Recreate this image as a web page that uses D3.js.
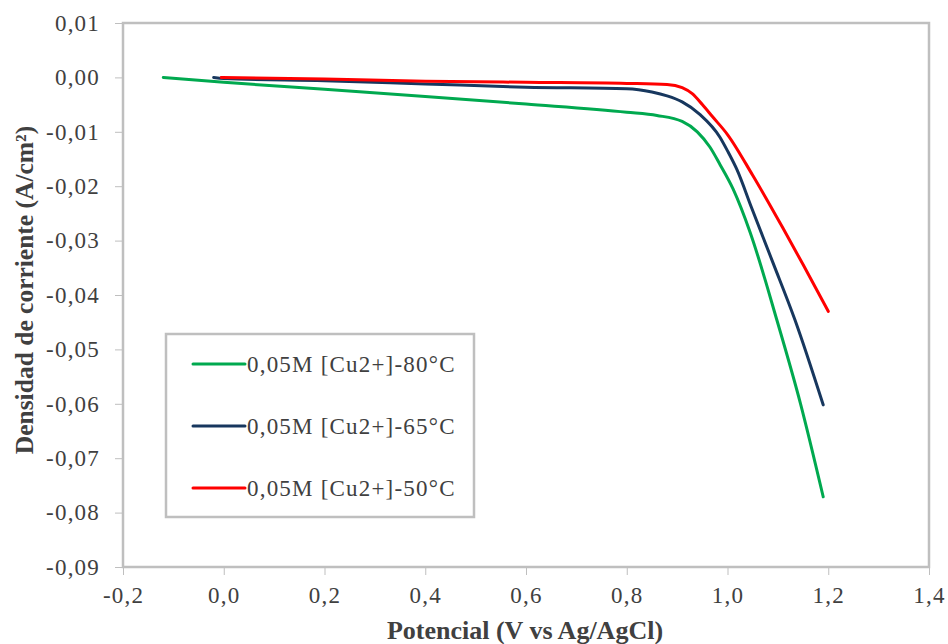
<!DOCTYPE html>
<html>
<head>
<meta charset="utf-8">
<script src="https://cdn.jsdelivr.net/npm/d3@7"></script>
<style>
  html, body { margin: 0; padding: 0; background: #fff; }
  svg { display: block; }
</style>
</head>
<body>
<svg id="chart" width="948" height="644"></svg>
<script>
// ---- data ----
const seriesNames = ["0,05M [Cu2+]-80°C", "0,05M [Cu2+]-65°C", "0,05M [Cu2+]-50°C"];
const seriesColors = ["#00A94F", "#17375E", "#FF0000"];

const greenX = [-0.12, 0.0, 0.2, 0.4, 0.6, 0.8, 0.86, 0.91, 0.94, 0.965, 0.985, 1.011, 1.045, 1.098, 1.145, 1.19];
const greenY = [0.0000, -0.0009, -0.0022, -0.0035, -0.0049, -0.0064, -0.0070, -0.0081, -0.0100, -0.0128, -0.0160, -0.0205, -0.0285, -0.0446, -0.0600, -0.0771];

const blueX = [-0.02, 0.0, 0.2, 0.4, 0.6, 0.8, 0.85, 0.88, 0.91, 0.945, 0.985, 1.0, 1.019, 1.048, 1.09, 1.134, 1.19];
const blueY = [0.0000, -0.0002, -0.0006, -0.0012, -0.0018, -0.0021, -0.0027, -0.0034, -0.0045, -0.0068, -0.0110, -0.0135, -0.0170, -0.0240, -0.0340, -0.0446, -0.0602];

const redX = [-0.005, 0.2, 0.4, 0.6, 0.8, 0.88, 0.91, 0.93, 0.95, 0.97, 1.0, 1.05, 1.11, 1.15, 1.20];
const redY = [0.0000, -0.0003, -0.0007, -0.0009, -0.0011, -0.0013, -0.0019, -0.0030, -0.0050, -0.0072, -0.0105, -0.0180, -0.0277, -0.0344, -0.0430];

const xTicks = [-0.2, 0.0, 0.2, 0.4, 0.6, 0.8, 1.0, 1.2, 1.4];
const yTicks = [0.01, 0.00, -0.01, -0.02, -0.03, -0.04, -0.05, -0.06, -0.07, -0.08, -0.09];

const xTitle = "Potencial (V vs Ag/AgCl)";
const yTitle = "Densidad de corriente (A/cm²)";

// ---- layout ----
const plot = { left: 123, right: 929, top: 23, bottom: 567 };
const FONT = "'Liberation Serif', 'Times New Roman', serif";
const axisGray = "#BFBFBF";
const textColor = "#404040";
const LS = "1.2px";

const svg = d3.select("#chart");

const x = d3.scaleLinear().domain([-0.2, 1.4]).range([plot.left, plot.right]);
const y = d3.scaleLinear().domain([-0.09, 0.01]).range([plot.bottom, plot.top]);

const fmtNum = (v, digits) => {
  const a = Math.abs(v) < 1e-9 ? 0 : v;
  const s = Math.abs(a).toFixed(digits).replace(".", ",");
  return (a < 0 ? "-" : "") + s;
};

// x axis
const xAxis = svg.append("g")
  .attr("transform", `translate(0,${plot.bottom})`)
  .call(d3.axisBottom(x).tickValues(xTicks).tickSize(8).tickFormat(v => fmtNum(v, 1)));
xAxis.select(".domain").remove();
xAxis.selectAll(".tick line").attr("stroke", axisGray).attr("stroke-width", 1);
xAxis.selectAll(".tick text")
  .attr("y", 36).attr("dy", null)
  .attr("font-family", FONT).attr("font-size", 23).attr("letter-spacing", LS).attr("fill", textColor);

// y axis
const yAxis = svg.append("g")
  .attr("transform", `translate(${plot.left},0)`)
  .call(d3.axisLeft(y).tickValues(yTicks).tickSize(8).tickPadding(15).tickFormat(v => fmtNum(v, 2)));
yAxis.select(".domain").remove();
yAxis.selectAll(".tick line").attr("stroke", axisGray).attr("stroke-width", 1);
yAxis.selectAll(".tick text")
  .attr("font-family", FONT).attr("font-size", 23).attr("letter-spacing", LS).attr("fill", textColor);

// plot border
svg.append("rect")
  .attr("x", plot.left).attr("y", plot.top)
  .attr("width", plot.right - plot.left).attr("height", plot.bottom - plot.top)
  .attr("fill", "none").attr("stroke", axisGray).attr("stroke-width", 2.5);

// lines
const allSeries = [
  { name: seriesNames[0], color: seriesColors[0], xs: greenX, ys: greenY },
  { name: seriesNames[1], color: seriesColors[1], xs: blueX, ys: blueY },
  { name: seriesNames[2], color: seriesColors[2], xs: redX, ys: redY }
];
const line = d3.line().x(d => x(d[0])).y(d => y(d[1])).curve(d3.curveMonotoneX);

allSeries.forEach(s => {
  svg.append("path")
    .datum(s.xs.map((v, i) => [v, s.ys[i]]))
    .attr("fill", "none")
    .attr("stroke", s.color)
    .attr("stroke-width", 3)
    .attr("stroke-linejoin", "round")
    .attr("stroke-linecap", "round")
    .attr("d", line);
});

// legend
const lg = svg.append("g");
lg.append("rect")
  .attr("x", 166).attr("y", 334).attr("width", 308).attr("height", 183)
  .attr("fill", "#fff").attr("stroke", axisGray).attr("stroke-width", 2.5);
const rowsY = [364, 426, 488];
allSeries.forEach((s, i) => {
  lg.append("line")
    .attr("x1", 193).attr("x2", 245).attr("y1", rowsY[i]).attr("y2", rowsY[i])
    .attr("stroke", s.color).attr("stroke-width", 3).attr("stroke-linecap", "round");
  lg.append("text")
    .attr("x", 247).attr("y", rowsY[i]).attr("dy", "0.35em")
    .attr("font-family", FONT).attr("font-size", 23).attr("letter-spacing", LS).attr("fill", textColor)
    .text(s.name);
});

// axis titles
svg.append("text")
  .attr("x", 525).attr("y", 639)
  .attr("text-anchor", "middle")
  .attr("font-family", FONT).attr("font-size", 26).attr("font-weight", "bold")
  .attr("fill", textColor)
  .text(xTitle);

svg.append("text")
  .attr("transform", "translate(33,290) rotate(-90)")
  .attr("text-anchor", "middle")
  .attr("font-family", FONT).attr("font-size", 25.5).attr("font-weight", "bold")
  .attr("fill", textColor)
  .text(yTitle);
</script>
</body>
</html>
